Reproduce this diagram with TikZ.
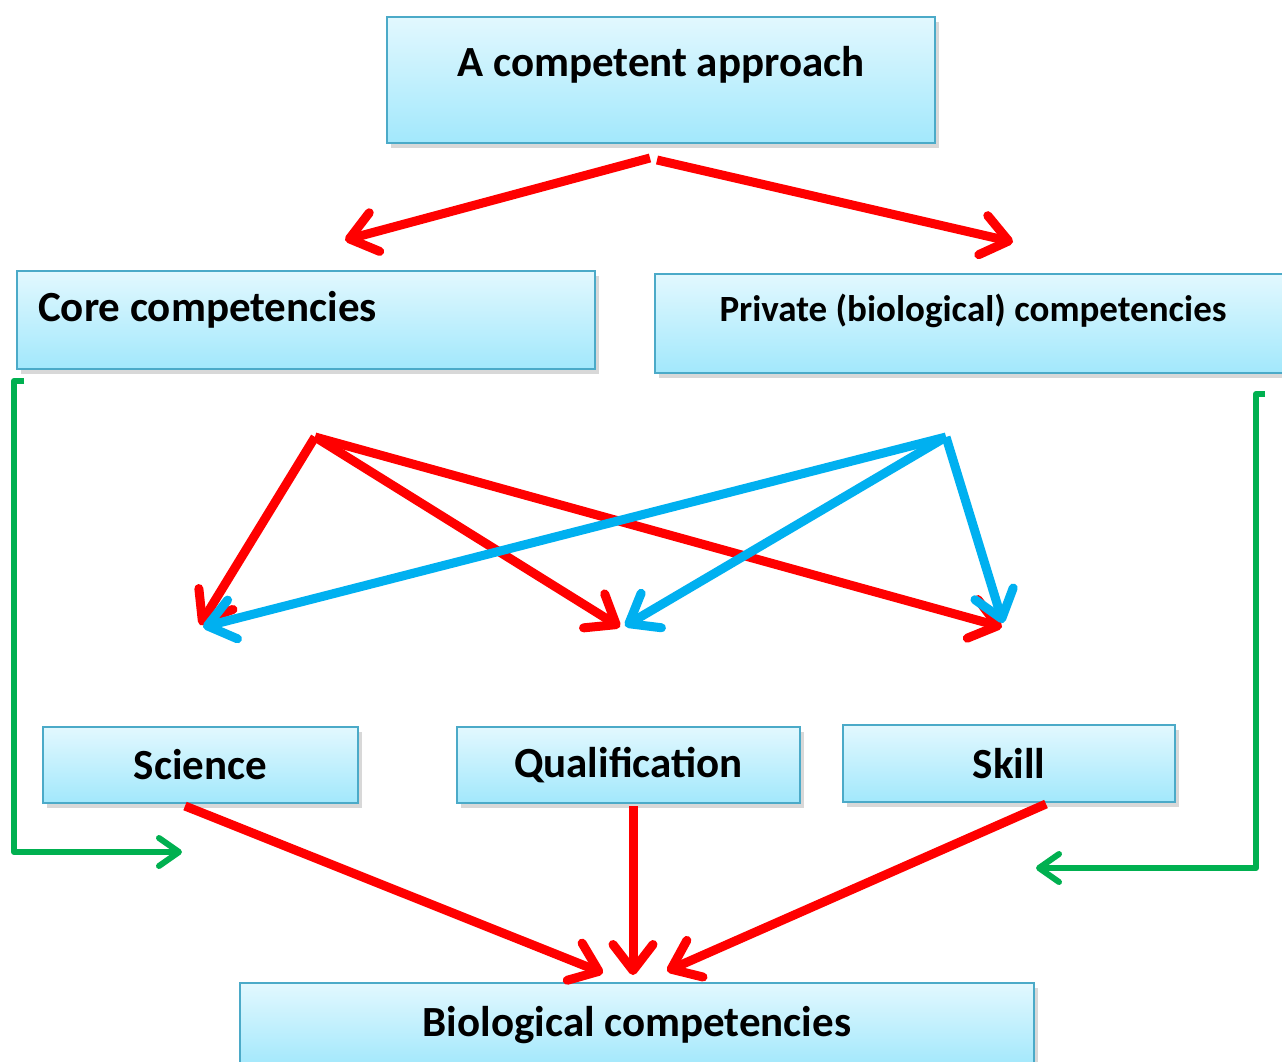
\documentclass[tikz,border=0pt]{standalone}
\usepackage{fontspec}
\setmainfont{Carlito}
\usetikzlibrary{arrows.meta,shadows}
\definecolor{boxtop}{HTML}{E2F8FE}
\definecolor{boxbot}{HTML}{A2E8FC}
\definecolor{boxline}{HTML}{4BAAC8}
\definecolor{redc}{HTML}{FF0000}
\definecolor{bluec}{HTML}{00B0F0}
\definecolor{greenc}{HTML}{00B050}
\tikzset{
  cbox/.style={draw=boxline, line width=2pt, top color=boxtop, bottom color=boxbot,
    drop shadow={shadow xshift=4pt, shadow yshift=-5pt, fill=black!25, opacity=0.6},
    inner sep=0pt, font=\bfseries\fontsize{43}{47}\selectfont},
  txt/.style={font=\bfseries\fontsize{43}{47}\selectfont, inner sep=0pt},
  redarr/.style={draw=redc, line width=9pt, -{Straight Barb[length=26pt,width=40pt,round]}},
  bluearr/.style={draw=bluec, line width=9pt, -{Straight Barb[length=26pt,width=40pt,round]}},
  greenarr/.style={draw=greenc, line width=6pt, line join=round, -{Straight Barb[length=20pt,width=28pt,round]}},
}
\begin{document}
\begin{tikzpicture}[x=1pt,y=-1pt]
\clip (0,0) rectangle (1282,1062);
\fill[white] (0,0) rectangle (1282,1062);

% boxes
\node[cbox, minimum width=548pt, minimum height=126pt,
  label={[txt,yshift=15pt]center:A competent approach}] (top) at (661,80) {};
\node[cbox, minimum width=578pt, minimum height=98pt,
  label={[txt,anchor=west,xshift=22pt,yshift=10pt]west:Core competencies}] (core) at (306,320) {};
\node[cbox, minimum width=640pt, minimum height=99pt,
  label={[txt,font=\bfseries\fontsize{37}{40}\selectfont,xshift=-2pt,yshift=13pt]center:Private (biological) competencies}] (priv) at (975,323.5) {};
\node[cbox, minimum width=315pt, minimum height=76pt] (sci) at (200.5,765) {Science};
\node[cbox, minimum width=343pt, minimum height=76pt] (qual) at (628.5,765) {Qualification};
\node[cbox, minimum width=332pt, minimum height=77pt] (skill) at (1009,763.5) {Skill};
\node[cbox, minimum width=794pt, minimum height=84pt] (bio) at (637,1025) {Biological competencies};

% points
\coordinate (t1) at (650,158);
\coordinate (t2) at (657,160);
\coordinate (c1) at (345,240);
\coordinate (p1) at (1013,242);
\coordinate (rs) at (315,437);
\coordinate (bs) at (946,437);
\coordinate (e1) at (200,625);
\coordinate (e2) at (620,627);
\coordinate (e3) at (1002,627);
\coordinate (f1) at (203,627);
\coordinate (f2) at (625,626);
\coordinate (f3) at (1003,623);
\coordinate (s0) at (185,806);
\coordinate (q0) at (633,806);
\coordinate (k0) at (1046,804);
\coordinate (b1) at (603,973);
\coordinate (b2) at (633,975);
\coordinate (b3) at (667,971);
\coordinate (g1) at (24,381);
\coordinate (g2) at (182,852);
\coordinate (h1) at (1265,394);
\coordinate (h2) at (1036,868);

% arrows
\draw[redarr] (t1) -- (c1);
\draw[redarr] (t2) -- (p1);
\draw[redarr] (rs) -- (e1);
\draw[redarr] (rs) -- (e2);
\draw[redarr] (rs) -- (e3);
\draw[bluearr] (bs) -- (f1);
\draw[bluearr] (bs) -- (f2);
\draw[bluearr] (bs) -- (f3);
\draw[redarr] (s0) -- (b1);
\draw[redarr] (q0) -- (b2);
\draw[redarr] (k0) -- (b3);
\draw[greenarr] (g1) -- (14,381) |- (g2);
\draw[greenarr] (h1) -- (1256,394) |- (h2);
\end{tikzpicture}
\end{document}
